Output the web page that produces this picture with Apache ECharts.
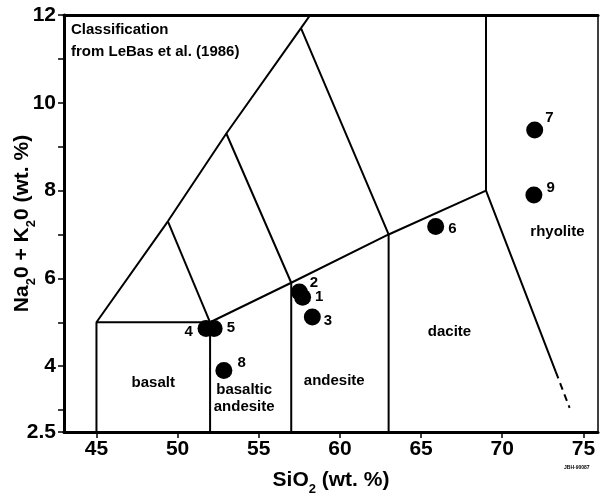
<!DOCTYPE html>
<html>
<head>
<meta charset="utf-8">
<script src="https://cdn.jsdelivr.net/npm/echarts@6/dist/echarts.min.js"></script>
<style>html,body{margin:0;padding:0;background:#fff}#c{width:600px;height:497px}</style>
</head>
<body>
<div id="c"></div>
<script>
// ---- data ----
var xTickLabels = [45, 50, 55, 60, 65, 70, 75];
var yTickLabels = [2.5, 4, 6, 8, 10, 12];
var yTickMarks = [2.5, 3, 4, 5, 6, 7, 8, 9, 10, 11, 12];

var sampleIds = ['1', '2', '3', '4', '5', '6', '7', '8', '9'];
var sampleSiO2 = [57.7, 57.5, 58.3, 51.75, 52.25, 65.9, 72.0, 52.85, 71.95];
var sampleAlk = [5.57, 5.69, 5.12, 4.86, 4.86, 7.18, 9.38, 3.9, 7.9];

// TAS field boundaries (Le Bas et al. 1986), clipped to plot
var bndUpper = [[45, 5], [49.4, 7.3], [53, 9.3], [57.6, 11.7], [58.17, 12]];
var bndBasalt = [[45, 2.5], [45, 5], [52, 5], [52, 2.5]];
var bndLower = [[52, 5], [57, 5.9], [63, 7], [69, 8]];
var bndA = [[49.4, 7.3], [52, 5]];
var bndB = [[53, 9.3], [57, 5.9], [57, 2.5]];
var bndC = [[57.6, 11.7], [63, 7], [63, 2.5]];
var bndD = [[69, 12], [69, 8], [73.3, 3.87]];
var bndDashed = [[73.3, 3.87], [74.15, 3.05]];

var fieldNames = ['basalt', 'basaltic\nandesite', 'andesite', 'dacite', 'rhyolite'];
var fieldX = [48.5, 54.1, 59.65, 66.75, 73.4];
var fieldY = [3.62, 3.26, 3.66, 4.78, 7.06];

// ---- style ----
var FONT = 'Liberation Sans';
var labelOffsets = [[0, 0], [-2, -9], [-1, 4], [-34, 3], [0, -1], [0, 2], [-2, -12], [1, -8], [0, -7]];

var chart = echarts.init(document.getElementById('c'), null, {renderer: 'canvas'});

function bline(d, dashed) {
  return {
    type: 'line', data: d, symbol: 'none', silent: true, animation: false,
    lineStyle: {color: '#000', width: 2, type: dashed ? [7, 5] : 'solid'},
    z: 2
  };
}

var samples = sampleIds.map(function (id, i) {
  return {
    value: [sampleSiO2[i], sampleAlk[i]],
    label: {show: true, formatter: id, position: 'right', distance: 4, offset: labelOffsets[i]}
  };
});

var fields = fieldNames.map(function (n, i) {
  return {value: [fieldX[i], fieldY[i]], name: n};
});

var rich = {
  a: {fontSize: 21, fontWeight: 'bold', fontFamily: FONT, color: '#000', lineHeight: 24},
  s: {fontSize: 13, fontWeight: 'bold', fontFamily: FONT, color: '#000', verticalAlign: 'bottom', lineHeight: 16, padding: [0, 0, -4, 0]}
};

chart.setOption({
  animation: false,
  grid: {left: 64, right: 2, top: 15, bottom: 65, containLabel: false, outerBoundsMode: 'none'},
  xAxis: [{
    type: 'value', min: 43, max: 75.9, position: 'bottom',
    name: '{a|SiO}{s|2}{a| (wt. %)}', nameLocation: 'middle', nameGap: 36, nameMoveOverlap: false,
    nameTextStyle: {rich: rich},
    axisLine: {lineStyle: {color: '#000', width: 3}},
    axisTick: {show: true, length: 6, customValues: xTickLabels, lineStyle: {color: '#000', width: 1.5}},
    axisLabel: {customValues: xTickLabels, color: '#000', fontSize: 21, fontWeight: 'bold', fontFamily: FONT, margin: 7},
    splitLine: {show: false}
  }, {
    type: 'value', min: 43, max: 75.9, position: 'top',
    axisLine: {show: true, onZero: false, lineStyle: {color: '#000', width: 3}},
    axisTick: {show: false}, axisLabel: {show: false}, splitLine: {show: false}
  }],
  yAxis: [{
    type: 'value', min: 2.5, max: 12, position: 'left',
    name: '{a|Na}{s|2}{a|0 + K}{s|2}{a|0 (wt. %)}', nameLocation: 'middle', nameGap: 30, nameRotate: 90, nameMoveOverlap: false,
    nameTextStyle: {rich: rich},
    axisLine: {show: true, lineStyle: {color: '#000', width: 3}},
    axisTick: {show: true, length: 6, customValues: yTickMarks, lineStyle: {color: '#000', width: 1.5}},
    axisLabel: {customValues: yTickLabels, color: '#000', fontSize: 21, fontWeight: 'bold', fontFamily: FONT, margin: 8,
      formatter: function (v) { return String(v); }},
    splitLine: {show: false}
  }, {
    type: 'value', min: 2.5, max: 12, position: 'right',
    axisLine: {show: true, onZero: false, lineStyle: {color: '#000', width: 1.5}},
    axisTick: {show: false}, axisLabel: {show: false}, splitLine: {show: false}
  }],
  series: [
    bline(bndUpper), bline(bndBasalt), bline(bndLower), bline(bndA), bline(bndB), bline(bndC), bline(bndD),
    bline(bndDashed, true),
    {
      type: 'scatter', data: samples, symbolSize: 17, silent: true,
      itemStyle: {color: '#000', opacity: 1}, z: 5,
      label: {color: '#000', opacity: 1, fontSize: 15, fontWeight: 'bold', fontFamily: FONT}
    },
    {
      type: 'scatter', data: fields, symbolSize: 0, silent: true, z: 4,
      itemStyle: {opacity: 1},
      label: {show: true, position: 'inside', formatter: '{b}', color: '#000', opacity: 1, fontSize: 15, fontWeight: 'bold',
        fontFamily: FONT, lineHeight: 17, align: 'center'}
    }
  ],
  graphic: [{
    type: 'text', left: 71, top: 19,
    style: {text: 'Classification\nfrom LeBas et al. (1986)', fill: '#000', font: 'bold 15px "Liberation Sans"', lineHeight: 22}
  }, {
    type: 'text', left: 564, top: 465,
    style: {text: 'JBH-90087', fill: '#000', font: 'bold 5px "Liberation Sans"'}
  }]
});
</script>
</body>
</html>
